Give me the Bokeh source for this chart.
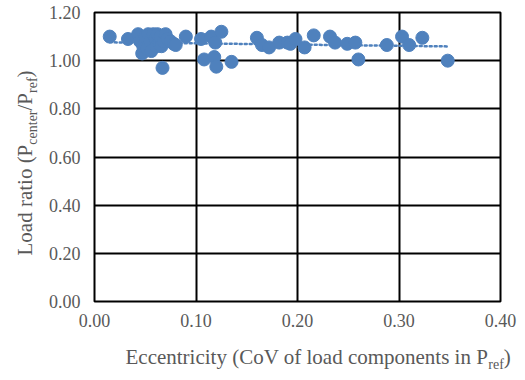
import numpy as np
from bokeh.plotting import figure
from bokeh.layouts import row, column
from bokeh.models import FixedTicker, NumeralTickFormatter, Range1d
from bokeh.core.properties import value
from bokeh.embed import file_html
from bokeh.resources import INLINE

# ---- data ----
ecc = [0.015, 0.033, 0.043, 0.045, 0.047, 0.048, 0.050, 0.052, 0.053, 0.055,
       0.056, 0.058, 0.060, 0.061, 0.062, 0.064, 0.065, 0.066, 0.068, 0.070,
       0.072, 0.075, 0.078, 0.080, 0.067, 0.090, 0.105, 0.108, 0.115, 0.118,
       0.119, 0.120, 0.125, 0.135, 0.160, 0.165, 0.172, 0.182, 0.190, 0.193,
       0.198, 0.207, 0.216, 0.232, 0.237, 0.249, 0.257, 0.260, 0.288, 0.303,
       0.310, 0.323, 0.348]
ratio = [1.10, 1.09, 1.11, 1.08, 1.03, 1.06, 1.10, 1.05, 1.11, 1.08,
         1.04, 1.11, 1.09, 1.06, 1.11, 1.07, 1.10, 1.06, 1.08, 1.11,
         1.09, 1.08, 1.07, 1.065, 0.97, 1.10, 1.09, 1.005, 1.10, 1.015,
         1.075, 0.975, 1.12, 0.995, 1.095, 1.065, 1.055, 1.075, 1.075, 1.07,
         1.09, 1.055, 1.105, 1.10, 1.075, 1.07, 1.075, 1.005, 1.065, 1.10,
         1.065, 1.095, 1.00]
x_ticks = [0.0, 0.1, 0.2, 0.3, 0.4]
y_ticks = [0.0, 0.2, 0.4, 0.6, 0.8, 1.0, 1.2]
x_title = [("Eccentricity (CoV of load components in P", "main"),
           ("ref", "sub"), (")", "main")]
y_title = [("Load ratio (P", "main"), ("center", "sub"), ("/P", "main"),
           ("ref", "sub"), (")", "main")]

BLUE = "#4F81BD"
GRAY = "#595959"
FONT = "Liberation Serif"
SIZES = {"main": 21, "sub": 14}
DROP = {"main": 0, "sub": 6}
ASC = 0.891          # font ascent (em) used to place text by its top line

TOTAL_W, TOTAL_H = 517, 372
YL_W = 44            # width of the strip holding the y title
TOP_H = 342          # height of the row holding the plot
FRAME_L, FRAME_R, FRAME_T, FRAME_B = 94, 500, 12, 301

# ---- main chart ----
PW = TOTAL_W - YL_W
p = figure(width=PW, height=TOP_H, output_backend="svg",
           toolbar_location=None, title=None,
           x_range=Range1d(0, 0.4), y_range=Range1d(0, 1.2),
           min_border_left=FRAME_L - YL_W,
           min_border_right=TOTAL_W - FRAME_R,
           min_border_top=FRAME_T, min_border_bottom=TOP_H - FRAME_B)
p.background_fill_color = "white"
p.border_fill_color = "white"
p.outline_line_color = "black"
p.outline_line_width = 2

for ax, ticks in ((p.xaxis, x_ticks), (p.yaxis, y_ticks)):
    ax.ticker = FixedTicker(ticks=ticks)
    ax.formatter = NumeralTickFormatter(format="0.00")
    ax.axis_line_color = None
    ax.major_tick_line_color = None
    ax.minor_tick_line_color = None
    ax.major_tick_out = 0
    ax.major_tick_in = 0
    ax.minor_tick_out = 0
    ax.minor_tick_in = 0
    ax.major_label_text_font = FONT
    ax.major_label_text_font_size = "18px"
    ax.major_label_text_color = GRAY
p.xaxis.major_label_standoff = 12
p.yaxis.major_label_standoff = 14

p.xgrid.ticker = FixedTicker(ticks=x_ticks)
p.ygrid.ticker = FixedTicker(ticks=y_ticks)
for g in (p.xgrid, p.ygrid):
    g.grid_line_color = "black"
    g.grid_line_width = 2

# linear trend line fitted to the data
k, b = np.polyfit(ecc, ratio, 1)
tx = [min(ecc), max(ecc)]
p.line(tx, [k * v + b for v in tx], line_color=BLUE, line_width=2.5,
       line_dash="2 3", line_cap="round")
p.scatter(ecc, ratio, size=13, fill_color=BLUE, line_color=BLUE)

# ---- axis titles (with subscripts) in plain text strips ----
TW = {'L': 611, 'o': 500, 'a': 444, 'd': 500, ' ': 250, 'r': 333, 't': 278,
      'i': 278, '(': 333, ')': 333, 'P': 556, 'c': 444, 'e': 444, 'n': 500,
      '/': 278, 'f': 333, 'E': 611, 'C': 667, 'V': 722, 'y': 500, 'l': 278,
      'm': 778, 'p': 500, 's': 389}


def twidth(s, size):
    return sum(TW.get(ch, 500) for ch in s) * size / 1000.0


def strip(w, h, top=0, bottom=0):
    # data units == canvas pixels (y measured up from the strip's bottom)
    f = figure(width=w, height=h, output_backend="svg", toolbar_location=None,
               title=None, x_range=Range1d(0, w),
               y_range=Range1d(bottom, h - top),
               x_axis_type=None, y_axis_type=None, min_border=0)
    f.min_border_left = f.min_border_right = 0
    f.min_border_top = top
    f.min_border_bottom = bottom
    f.outline_line_color = None
    f.grid.visible = False
    f.background_fill_color = "white"
    f.border_fill_color = "white"
    return f


def put(f, t, x, y, size, angle=0.0):
    # (x, y) is the top-left corner of the text box
    f.text(x=[x], y=[y], text=[t], angle=angle, text_font=value(FONT),
           text_font_size=f"{size}px", text_color=GRAY, text_align="left",
           text_baseline="top")


# y title: rotated, baseline at canvas x=31, starting at canvas y=255
# (its frame matches the chart frame, since frames in a row are aligned)
yfig = strip(YL_W, TOP_H, top=FRAME_T, bottom=TOP_H - FRAME_B)
pos = TOP_H - 255
for t, kind in y_title:
    s = SIZES[kind]
    put(yfig, t, 31 + DROP[kind] - ASC * s, pos, s, angle=np.pi / 2)
    pos += twidth(t, s)

# x title: baseline at canvas y=363, starting at canvas x=125
XH = TOTAL_H - TOP_H
xfig = strip(TOTAL_W, XH)
pos = 125
for t, kind in x_title:
    s = SIZES[kind]
    put(xfig, t, pos, TOTAL_H - (363 + DROP[kind] - ASC * s), s)
    pos += twidth(t, s)

layout = column(row(yfig, p, spacing=0), xfig, spacing=0)
open("out.html", "w").write(file_html(layout, INLINE))
